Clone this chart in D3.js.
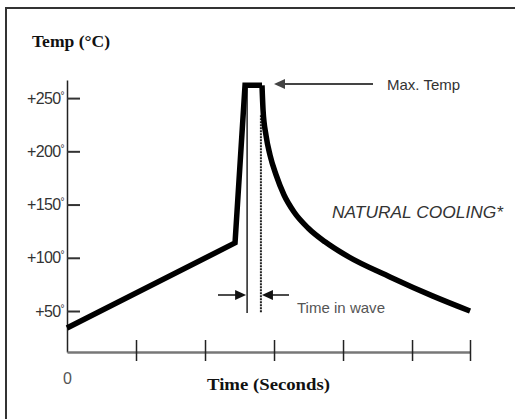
<!DOCTYPE html>
<html>
<head>
<meta charset="utf-8">
<script src="https://cdn.jsdelivr.net/npm/d3@7"></script>
<style>
  body { margin: 0; background: #fff; }
  svg { display: block; }
</style>
</head>
<body>
<svg id="chart" width="515" height="419"></svg>
<script>
// profile (time in axis units, temp in deg C)
var heatTime = [0, 2.435, 2.58, 2.826];
var heatTemp = [34, 114, 262, 262];
var coolTime = [2.826, 2.841, 2.884, 2.942, 3.029, 3.145, 3.29, 3.493, 3.739, 4.058, 4.681, 5.304, 5.841];
var coolTemp = [262, 239, 215, 196.5, 178, 159, 143, 128, 115, 101.7, 82, 64, 50];

var yTicks = [50, 100, 150, 200, 250];
var xTicks = [0, 1, 2, 3, 4, 5, 5.84];
var waveStart = 2.61, waveEnd = 2.81;   // time in wave markers

var svg = d3.select("#chart");

var x = d3.scaleLinear().domain([0, 5.84]).range([67, 470]);
var y = d3.scaleLinear().domain([11.5, 267]).range([352, 80]);

// frame (only top + left visible in the crop)
svg.append("rect")
  .attr("x", 6).attr("y", 8)
  .attr("width", 540).attr("height", 440)
  .attr("fill", "none").attr("stroke", "#333").attr("stroke-width", 2);

// y axis
var yAxis = d3.axisLeft(y)
  .tickValues(yTicks)
  .tickSizeInner(-13)
  .tickSizeOuter(0)
  .tickPadding(3);

var gy = svg.append("g").attr("transform", "translate(67,0)").call(yAxis);
gy.select(".domain").attr("stroke", "#222").attr("stroke-width", 1.5);
gy.selectAll(".tick line").attr("stroke", "#333").attr("stroke-width", 2);
gy.selectAll(".tick text")
  .attr("font-family", "Liberation Sans, Arial, sans-serif")
  .attr("font-size", 16)
  .attr("letter-spacing", -0.6)
  .attr("fill", "#333")
  .text(null)
  .each(function(d) {
    var t = d3.select(this);
    t.append("tspan").text("+" + d);
    t.append("tspan").attr("font-size", 10).attr("dy", -5).text("°");
  });

// x axis
var xAxis = d3.axisBottom(x)
  .tickValues(xTicks)
  .tickSizeOuter(0)
  .tickFormat(function(d) { return d === 0 ? "0" : ""; });

var gx = svg.append("g").attr("transform", "translate(0,352)").call(xAxis);
gx.select(".domain").attr("stroke", "#777").attr("stroke-width", 2.5);
gx.selectAll(".tick line")
  .attr("y1", -12).attr("y2", 9)
  .attr("stroke", "#222").attr("stroke-width", 1.5)
  .attr("display", function(d) { return d === 0 ? "none" : null; });
gx.selectAll(".tick text")
  .attr("y", 32).attr("dy", "0")
  .attr("font-family", "Liberation Sans, Arial, sans-serif")
  .attr("font-size", 16)
  .attr("fill", "#555");

// axis titles
svg.append("text")
  .attr("x", 32).attr("y", 47)
  .attr("font-family", "Liberation Serif, Times New Roman, serif")
  .attr("font-weight", "bold").attr("font-size", 16)
  .attr("fill", "#111")
  .attr("textLength", 78).attr("lengthAdjust", "spacingAndGlyphs")
  .text("Temp (°C)");

svg.append("text")
  .attr("x", 207).attr("y", 390)
  .attr("font-family", "Liberation Serif, Times New Roman, serif")
  .attr("font-weight", "bold").attr("font-size", 16)
  .attr("fill", "#111")
  .attr("textLength", 123).attr("lengthAdjust", "spacingAndGlyphs")
  .text("Time (Seconds)");

// time in wave markers
svg.append("line")
  .attr("x1", x(waveStart)).attr("x2", x(waveStart))
  .attr("y1", y(260)).attr("y2", 313)
  .attr("stroke", "#222").attr("stroke-width", 1.5);
svg.append("line")
  .attr("x1", x(waveEnd)).attr("x2", x(waveEnd))
  .attr("y1", y(234)).attr("y2", 313)
  .attr("stroke", "#222").attr("stroke-width", 2)
  .attr("stroke-dasharray", "2,1");

// profile curve
var line = d3.line()
  .x(function(d) { return x(d[0]); })
  .y(function(d) { return y(d[1]); });

var heat = d3.zip(heatTime, heatTemp);
var cool = d3.zip(coolTime, coolTemp);

svg.append("path")
  .attr("d", line.curve(d3.curveLinear)(heat))
  .attr("fill", "none").attr("stroke", "#000")
  .attr("stroke-width", 5.5).attr("stroke-linejoin", "miter");
svg.append("path")
  .attr("d", line.curve(d3.curveMonotoneX)(cool))
  .attr("fill", "none").attr("stroke", "#000")
  .attr("stroke-width", 5.5);

// arrows
function arrow(x1, x2, yy, col, w) {
  var dir = x2 > x1 ? 1 : -1;
  svg.append("line")
    .attr("x1", x1).attr("x2", x2 - dir * 8)
    .attr("y1", yy).attr("y2", yy)
    .attr("stroke", col).attr("stroke-width", w);
  svg.append("path")
    .attr("d", "M" + x2 + "," + yy + "L" + (x2 - dir * 11) + "," + (yy - 5) +
               "L" + (x2 - dir * 11) + "," + (yy + 5) + "Z")
    .attr("fill", col);
}
arrow(218, x(waveStart) - 1, 295, "#111", 1.5);
arrow(289, x(waveEnd) + 1, 295, "#111", 1.5);
arrow(373, 274, 84, "#444", 2);

// annotations
svg.append("text")
  .attr("x", 387).attr("y", 90)
  .attr("font-family", "Liberation Sans, Arial, sans-serif")
  .attr("font-size", 15).attr("fill", "#333")
  .text("Max. Temp");

svg.append("text")
  .attr("x", 332).attr("y", 218)
  .attr("font-family", "Liberation Sans, Arial, sans-serif")
  .attr("font-size", 16).attr("font-style", "italic").attr("fill", "#333")
  .attr("textLength", 171).attr("lengthAdjust", "spacingAndGlyphs")
  .text("NATURAL COOLING*");

svg.append("text")
  .attr("x", 297).attr("y", 313)
  .attr("font-family", "Liberation Sans, Arial, sans-serif")
  .attr("font-size", 15).attr("fill", "#555")
  .attr("textLength", 88).attr("lengthAdjust", "spacingAndGlyphs")
  .text("Time in wave");
</script>
</body>
</html>
